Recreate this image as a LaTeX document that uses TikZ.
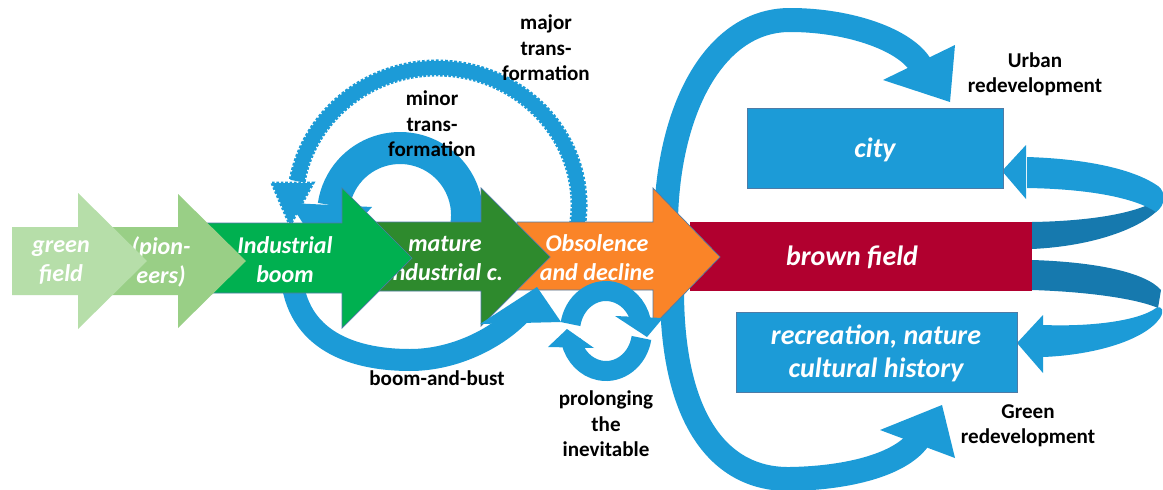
\documentclass[tikz,border=0pt]{standalone}
\usepackage{fontspec}
\setmainfont{Carlito}
\definecolor{gfield}{HTML}{B6DEA9}
\definecolor{pion}{HTML}{99CF86}
\definecolor{boomc}{HTML}{00B050}
\definecolor{maturec}{HTML}{2E8A2D}
\definecolor{orangec}{HTML}{FA8428}
\definecolor{brownc}{HTML}{B1002F}
\definecolor{bluec}{HTML}{1C9BD7}
\definecolor{dbluec}{HTML}{1679AE}
\definecolor{edgec}{HTML}{4E7BA6}
\begin{document}
\begin{tikzpicture}[x=0.02cm,y=-0.02cm,
  wlab/.style={text=white,font=\fontsize{13.7}{16.5}\selectfont\bfseries\itshape,align=center,inner sep=0pt},
  wbig/.style={text=white,font=\fontsize{15.9}{18.8}\selectfont\bfseries\itshape,align=center,inner sep=0pt},
  blab/.style={text=black,font=\fontsize{12}{14.5}\selectfont\bfseries,align=center,inner sep=0pt},
  band/.style={draw=bluec,line width=0.48cm},
  jag/.style={draw=bluec,line width=0.34cm,dash pattern=on 1.5pt off 1pt},
  head/.style={fill=bluec},
  outl/.style={draw=edgec,line width=0.4pt},
  boxs/.style={fill=bluec,draw=edgec,line width=0.4pt}]
\fill[white] (0,0) rectangle (1163,490);
\useasboundingbox (0,0) rectangle (1163,490);

% ---- right ribbons (behind brown field)
\fill[dbluec] (1032,222) .. controls (1095,221) and (1142,212) .. (1160,198) -- (1158,210) .. controls (1140,228) and (1095,246) .. (1032,249) -- cycle;
\fill[bluec] (1027,157) -- (1027,188) .. controls (1090,189) and (1135,198) .. (1156,212) .. controls (1166,205) and (1166,192) .. (1158,186) .. controls (1135,170) and (1090,159) .. (1027,157) -- cycle;
\fill[bluec] (1026,145) -- (1002,171) -- (1026,199) -- cycle;
\fill[dbluec] (1032,260) .. controls (1095,262) and (1145,272) .. (1161,290) -- (1158,308) .. controls (1140,300) and (1095,292) .. (1032,290) -- cycle;
\fill[bluec] (1043,325) .. controls (1095,327) and (1140,320) .. (1156,308) .. controls (1163,305) and (1164,312) .. (1160,318) .. controls (1145,340) and (1095,355) .. (1043,357) -- cycle;
\fill[bluec] (1043,315) -- (1017,343) -- (1043,373) -- cycle;

% ---- urban and green redevelopment arrows
\coordinate (ustart) at (666,240);
\coordinate (uend) at (921,66);
\draw[band] (ustart) .. controls (663,120) and (710,20) .. (790,20) .. controls (850,20) and (906,40) .. (uend);
\fill[head] (955,45) -- (950,102) -- (883,80) -- cycle;
\coordinate (gstart) at (672,290);
\coordinate (gend) at (918,440);
\draw[band] (gstart) .. controls (672,420) and (720,480) .. (790,479) .. controls (850,478) and (900,464) .. (gend);
\fill[head] (942,405) -- (880,430) -- (955,458) -- cycle;

% ---- major transformation (jagged edge)
\draw[draw=bluec,line width=0.28cm] (437,205) ++(10:142 and 137) arc[start angle=10,end angle=-170,x radius=142,y radius=137];
\draw[jag] (437,205) ++(10:142 and 137) arc[start angle=10,end angle=-170,x radius=142,y radius=137];
\fill[head] (272,183) -- (313,183) -- (290,225) -- cycle;
\draw[draw=bluec,line width=0.06cm,dash pattern=on 1.5pt off 1pt] (272,183) -- (313,183) -- (290,225) -- cycle;

% ---- minor transformation ring
\draw[draw=bluec,line width=0.64cm] (400,215) ++(12:67) arc[start angle=12,end angle=-172,radius=67];
\fill[head] (290,203) -- (372,207) -- (325,258) -- cycle;

% ---- brown field
\fill[brownc] (690,222) rectangle (1032,291);
\node[wbig] (brown) at (852,257) {brown field};

% ---- obsolence arrow
\filldraw[fill=orangec,outl] (517,222) -- (653,222) -- (653,188) -- (720,257) -- (653,326) -- (653,290) -- (517,290) -- cycle;
\node[wlab] (obs) at (597,258) {Obsolence\\and decline};

% ---- mature arrow
\filldraw[fill=maturec,outl] (360,222) -- (481,222) -- (481,188) -- (550,257) -- (481,326) -- (481,291) -- (360,291) -- cycle;
\node[wlab] (mat) at (445,258) {mature\\industrial c.};

% ---- boom-and-bust
\coordinate (bstart) at (292,280);
\coordinate (bend) at (520,314);
\draw[draw=bluec,line width=0.44cm] (bstart) .. controls (300,345) and (360,360) .. (410,360) .. controls (455,360) and (497,338) .. (bend);
\fill[head] (480,324) -- (537,287) -- (561,322) -- cycle;

% ---- prolonging the inevitable
\draw[draw=bluec,line width=0.4cm] (606,331) ++(190:36 and 40) arc[start angle=190,end angle=345,x radius=36,y radius=40];
\fill[head] (615,316) -- (663,318) -- (647,337) -- cycle;
\draw[draw=bluec,line width=0.4cm] (606,331) ++(10:36 and 40) arc[start angle=10,end angle=165,x radius=36,y radius=40];
\fill[head] (548,347) -- (594,348) -- (567,329) -- cycle;

% ---- industrial boom arrow
\filldraw[fill=boomc,outl] (207,223) -- (342,223) -- (342,188) -- (412,258) -- (342,328) -- (342,293) -- (207,293) -- cycle;
\node[wlab] (boom) at (285,260) {Industrial\\boom};

% ---- pioneers
\fill[pion] (100,227) -- (178,227) -- (178,194) -- (246,261) -- (178,328) -- (178,295) -- (100,295) -- cycle;
\node[wlab] (pio) at (161,262) {(pion-\\eers)};

% ---- green field
\fill[gfield] (12,227) -- (78,227) -- (78,193) -- (147,261) -- (78,329) -- (78,295) -- (12,295) -- cycle;
\node[wlab] (gf) at (61,262) {green\\field};

% ---- boxes
\filldraw[boxs] (747,108) rectangle (1003,188);
\node[wbig] (city) at (875,150) {city};
\filldraw[boxs] (736,312) rectangle (1017,392);
\node[wbig] (rec) at (876,353) {recreation, nature\\cultural history};

% ---- black labels
\node[blab] (major) at (546,48) {major\\trans-\\formation};
\node[blab] (minor) at (432,124) {minor\\trans-\\formation};
\node[blab] (urban) at (1035,74) {Urban\\redevelopment};
\node[blab] (green) at (1028,426) {Green\\redevelopment};
\node[blab] (bab) at (437,378) {boom-and-bust};
\node[blab] (prol) at (606,424) {prolonging\\the\\inevitable};
\end{tikzpicture}
\end{document}
